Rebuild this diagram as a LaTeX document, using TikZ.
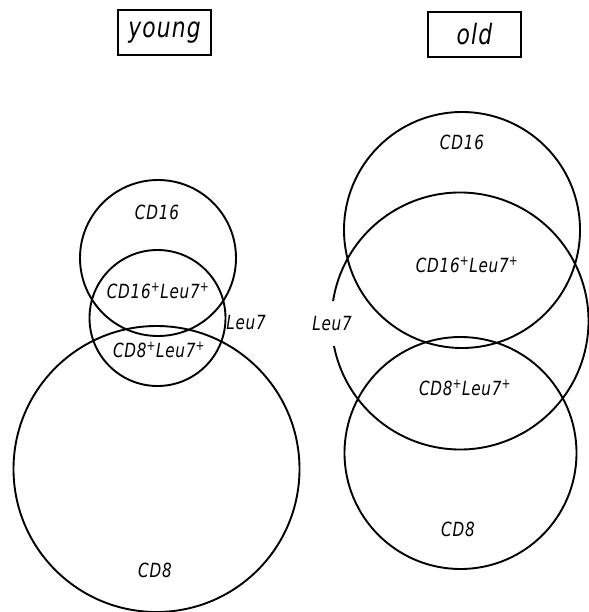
\documentclass[tikz,border=0pt]{standalone}
\usepackage{fontspec}
\setmainfont{DejaVu Sans}[FakeStretch=0.78, LetterSpace=4]
\begin{document}
\begin{tikzpicture}[x=1pt,y=-1pt,line width=1.9pt,
  lbl/.style={font=\fontsize{19.5}{21}\selectfont\itshape, inner sep=0pt},
  ttl/.style={draw, line width=2.3pt, minimum width=93pt, minimum height=45pt, inner sep=0pt,
              font=\fontsize{28}{30}\selectfont\itshape}]
\useasboundingbox (0,0) rectangle (588,612);
% titles
\node[ttl] (young) at (164.5,32.5) {young};
\node[ttl] (old) at (474.5,34.5) {old};
% young circles
\coordinate (y16) at (158,258);
\coordinate (yL) at (157.5,318);
\coordinate (y8) at (156.5,469);
\draw (y16) circle[radius=78];
\draw (yL) circle[radius=68];
\draw (y8) circle[radius=143];
\node[lbl] (ya) at (157,212) {CD16};
\node[lbl] (yb) at (158,291) {CD16\textsuperscript{+}Leu7\textsuperscript{+}};
\node[lbl] (yc) at (159,350) {CD8\textsuperscript{+}Leu7\textsuperscript{+}};
\node[lbl] (yd) at (246,323) {Leu7};
\node[lbl] (ye) at (155,570) {CD8};
% old circles
\coordinate (o16) at (462,230);
\coordinate (oL) at (460,321);
\coordinate (o8) at (460.5,453);
\draw (o16) circle[radius=118];
\draw ([shift={(188.9:128.5)}]oL) arc[start angle=188.9, end angle=528.8, radius=128.5];
\draw (o8) circle[radius=116];
\node[lbl] (oa) at (462,142) {CD16};
\node[lbl] (ob) at (467,265) {CD16\textsuperscript{+}Leu7\textsuperscript{+}};
\node[lbl] (oc) at (465,388) {CD8\textsuperscript{+}Leu7\textsuperscript{+}};
\node[lbl] (od) at (332,324) {Leu7};
\node[lbl] (oe) at (458,529) {CD8};
\end{tikzpicture}
\end{document}
